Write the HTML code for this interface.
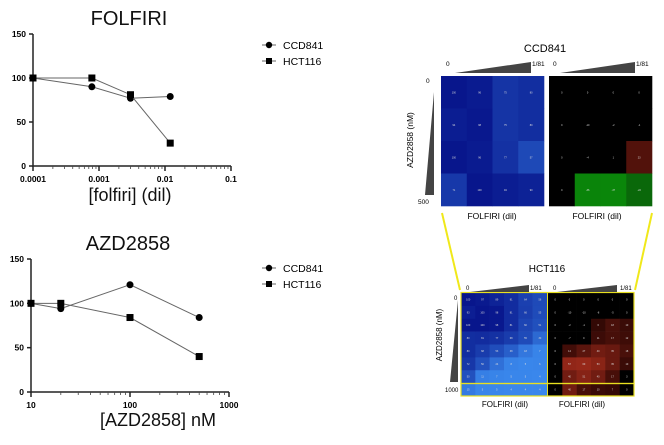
<!DOCTYPE html>
<html><head><meta charset="utf-8"><style>
body{margin:0;background:#fff;}
svg{display:block;font-family:"Liberation Sans",Arial,sans-serif;}
</style></head><body>
<svg id="s" width="664" height="445" viewBox="0 0 664 445" xmlns="http://www.w3.org/2000/svg">
<g id="c1"></g>
<g id="c2"></g>
<g id="hm"></g>
</svg>
<script>
const NS="http://www.w3.org/2000/svg";
const folfiriX=[0.0001,0.00078,0.003,0.012];
const folfiriCCD=[100,90,77,79];
const folfiriHCT=[100,100,81,26];
const azdX=[10,20,100,500];
const azdCCD=[100,94,121,84];
const azdHCT=[100,100,84,40];
const yTicks=[0,50,100,150];
const folfiriTicks=["0.0001","0.001","0.01","0.1"];
const azdTicks=["10","100","1000"];
const seriesNames=["CCD841","HCT116"];
// heatmap data
const ccdLeft=[[100,96,75,80],[94,98,75,80],[100,96,77,57],[71,100,94,90]];
const ccdRight=[[0,0,0,0],[0,-10,-2,-1],[0,-4,1,23],[0,-36,-37,-22]];
const hctLeft=[[100,97,89,81,64,56],[93,100,98,81,66,55],[100,100,98,81,60,51],[80,81,77,68,55,30],[80,68,53,38,18,7],[72,50,24,8,5,6],[50,11,7,5,5,4],[15,5,5,4,4,4]];
const hctRight=[[0,0,0,0,0,0],[0,-10,-10,-8,-5,0],[0,-2,-1,6,18,10],[0,-7,0,11,17,12],[0,14,27,40,35,18],[0,57,60,53,35,10],[0,40,51,40,17,3],[0,40,17,10,7,0]];

function el(tag,attrs,parent,text){const e=document.createElementNS(NS,tag);for(const k in attrs)e.setAttribute(k,attrs[k]);if(text!==undefined)e.textContent=text;parent.appendChild(e);return e;}

function lineChart(g,opt){
  const xs=v=>opt.x0+(Math.log10(v)-opt.lmin)*opt.dec;
  const ys=v=>opt.y0-v/150*(opt.y0-opt.ytop);
  const t=el("text",{x:opt.tx,y:opt.ty,"font-size":20,"text-anchor":"middle",fill:"#111"},g,opt.title);
  
  
  const ax=el("path",{d:`M${opt.x0},${opt.ytop}V${opt.y0}H${opt.x0+opt.dec*opt.ndec}`,stroke:"#222","stroke-width":1.5,fill:"none"},g);
  
  
  yTicks.forEach(v=>{
    el("line",{x1:opt.x0-4,x2:opt.x0,y1:ys(v),y2:ys(v),stroke:"#222","stroke-width":1.5},g);
    const l=el("text",{x:opt.x0-7,y:ys(v)+3,"font-size":8.5,"font-weight":"bold","text-anchor":"end"},g,v);
    
    
  });
  for(let d=0;d<opt.ndec;d++){for(let m=2;m<=9;m++){const x=opt.x0+(d+Math.log10(m))*opt.dec;el("line",{x1:x,x2:x,y1:opt.y0,y2:opt.y0+3,stroke:"#444","stroke-width":0.8},g);}}
  opt.ticks.forEach((s,i)=>{const x=opt.x0+i*opt.dec;el("line",{x1:x,x2:x,y1:opt.y0,y2:opt.y0+5,stroke:"#222","stroke-width":1.5},g);
    const l=el("text",{x:x,y:opt.y0+16,"font-size":8.5,"font-weight":"bold","text-anchor":"middle"},g,s);
    
    });
  const xl=el("text",{x:opt.xlx,y:opt.xly,"font-size":18,"text-anchor":"middle",fill:"#111"},g,opt.xlabel);
  
  
  [opt.a,opt.b].forEach((vals,si)=>{
    const pts=opt.xv.map((xv,i)=>[xs(xv),ys(vals[i])]);
    const p=el("polyline",{points:pts.map(p=>p.join(",")).join(" "),stroke:"#666","stroke-width":1,fill:"none"},g);
    
    
    pts.forEach(q=>{let m;
      if(si==0)m=el("circle",{cx:q[0],cy:q[1],r:3.5,fill:"#000"},g);
      else m=el("rect",{x:q[0]-3.5,y:q[1]-3.5,width:7,height:7,fill:"#000"},g);
      
      });
    const ly=opt.legY+si*16;
    el("line",{x1:262,x2:276,y1:ly,y2:ly,stroke:"#666","stroke-width":1},g);
    if(si==0)el("circle",{cx:269,cy:ly,r:3.2,fill:"#000"},g);else el("rect",{x:266,y:ly-3,width:6,height:6,fill:"#000"},g);
    const lt=el("text",{x:283,y:ly+4,"font-size":10.5},g,seriesNames[si]);
    
    
  });
}
lineChart(document.getElementById("c1"),{x0:33,y0:166,ytop:34,dec:66,ndec:3,lmin:-4,ticks:folfiriTicks,xv:folfiriX,a:folfiriCCD,b:folfiriHCT,title:"FOLFIRI",tx:129,ty:25,xlabel:"[folfiri] (dil)",xlx:130,xly:201,legY:45});
lineChart(document.getElementById("c2"),{x0:31,y0:392,ytop:259,dec:99,ndec:2,lmin:1,ticks:azdTicks,xv:azdX,a:azdCCD,b:azdHCT,title:"AZD2858",tx:128,ty:250,xlabel:"[AZD2858] nM",xlx:158,xly:426,legY:268});

function lerp(a,b,t){return Math.round(a+(b-a)*t);}
function blue(v){const t=Math.max(0,Math.min(1,(100-v)/100));return `rgb(${lerp(8,60,t)},${lerp(22,140,t)},${lerp(140,240,t)})`;}
function diff(v){if(v>5){const t=Math.min(1,v/60);return `rgb(${lerp(40,150,t)},${lerp(5,40,t)},${lerp(3,25,t)})`;}
 if(v<-15){const t=Math.min(1,-v/40);return `rgb(10,${lerp(60,140,t)},10)`;}return "#000";}
function heat(g,data,x,y,w,h,colf,name){
  const rows=data.length,cols=data[0].length,cw=w/cols,ch=h/rows;
  data.forEach((r,i)=>r.forEach((v,j)=>{
    const c=el("rect",{x:x+j*cw,y:y+i*ch,width:cw+0.3,height:ch+0.3,fill:colf(v)},g);
    
    
    el("text",{x:x+(j+.5)*cw,y:y+(i+.5)*ch+1,"font-size":2.5,fill:"#ddd","text-anchor":"middle"},g,v);
  }));
}
const hm=document.getElementById("hm");
function txt(x,y,s,size,extra,name){const t=el("text",Object.assign({x:x,y:y,"font-size":size},extra||{}),hm,s);return t;}
// CCD841
txt(545,52,"CCD841",11,{"text-anchor":"middle"},"heatmap-title");
heat(hm,ccdLeft,441,76,103,130,blue,"ccd-viability");
heat(hm,ccdRight,549,76,103,130,diff,"ccd-synergy");
el("polygon",{points:"455,73 531,73 531,62",fill:"#444"},hm);
el("polygon",{points:"560,73 635,73 635,62",fill:"#444"},hm);
txt(446,66,"0",6.5,{},"dose-label");txt(532,66,"1/81",6.5,{},"dose-label");
txt(553,66,"0",6.5,{},"dose-label");txt(636,66,"1/81",6.5,{},"dose-label");
el("polygon",{points:"425,195 434,195 434,92",fill:"#444"},hm);
txt(426,83,"0",6.5,{},"dose-label");txt(418,204,"500",6.5,{},"dose-label");
txt(413,140,"AZD2858 (nM)",8.5,{"text-anchor":"middle",transform:"rotate(-90 413 140)"},"y-axis-title");
txt(492,219,"FOLFIRI (dil)",8.5,{"text-anchor":"middle"},"x-axis-title");
txt(597,219,"FOLFIRI (dil)",8.5,{"text-anchor":"middle"},"x-axis-title");
// connectors
el("line",{x1:442,y1:213,x2:460,y2:290,stroke:"#f0e81a","stroke-width":2},hm);
el("line",{x1:652,y1:213,x2:635,y2:290,stroke:"#f0e81a","stroke-width":2},hm);
// HCT116
txt(547,272,"HCT116",10,{"text-anchor":"middle"},"heatmap-title");
heat(hm,hctLeft,461,293,86,103,blue,"hct-viability");
heat(hm,hctRight,548,293,86,103,diff,"hct-synergy");
el("rect",{x:461,y:292.5,width:173,height:91,fill:"none",stroke:"#e8e020","stroke-width":1.2},hm);
el("rect",{x:461,y:383.5,width:173,height:12.5,fill:"none",stroke:"#e8e020","stroke-width":1.2},hm);
el("line",{x1:547.5,y1:292,x2:547.5,y2:396,stroke:"#e8e020","stroke-width":1},hm);
el("polygon",{points:"470,292 529,292 529,285",fill:"#444"},hm);
el("polygon",{points:"557,292 617,292 617,285",fill:"#444"},hm);
txt(466,290,"0",6,{},"dose-label");txt(530,290,"1/81",6,{},"dose-label");
txt(553,290,"0",6,{},"dose-label");txt(620,290,"1/81",6,{},"dose-label");
el("polygon",{points:"450,382 458,382 458,300",fill:"#444"},hm);
txt(454,300,"0",6,{},"dose-label");txt(445,392,"1000",6,{},"dose-label");
txt(442,335,"AZD2858 (nM)",8,{"text-anchor":"middle",transform:"rotate(-90 442 335)"},"y-axis-title");
txt(505,407,"FOLFIRI (dil)",8,{"text-anchor":"middle"},"x-axis-title");
txt(582,407,"FOLFIRI (dil)",8,{"text-anchor":"middle"},"x-axis-title");
</script>
</body></html>
